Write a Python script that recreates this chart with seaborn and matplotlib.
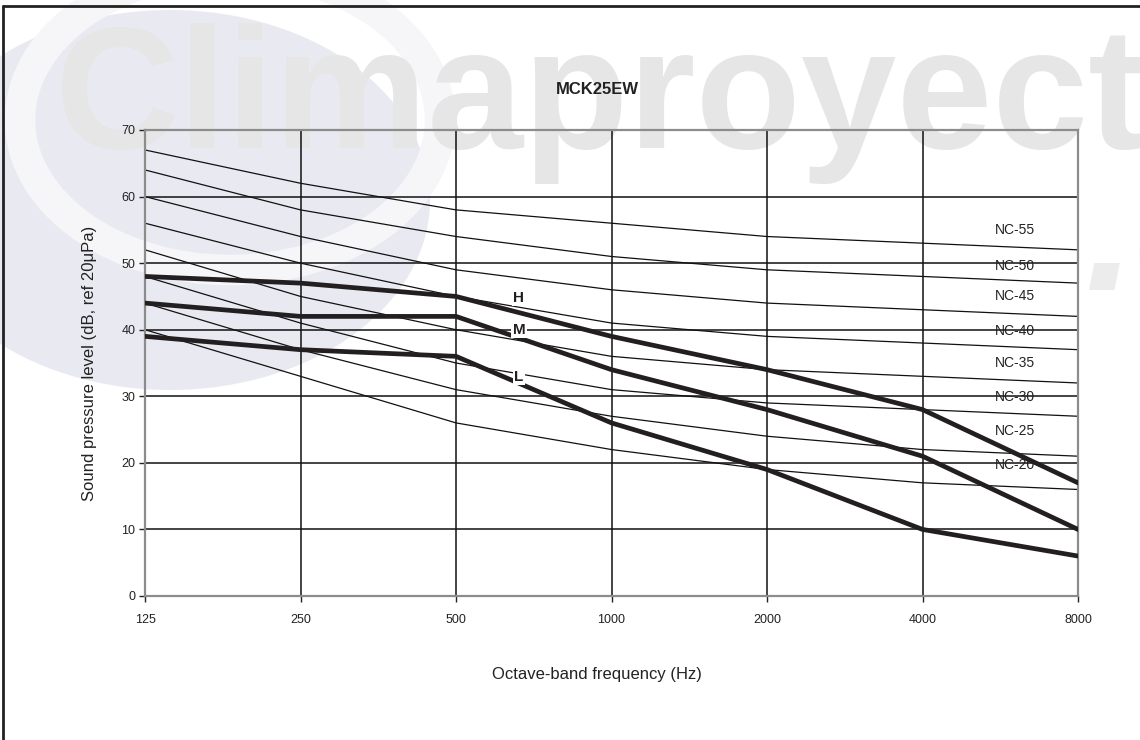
import numpy as np
import pandas as pd
import matplotlib
matplotlib.use("Agg")
import matplotlib.pyplot as plt
import seaborn as sns
from matplotlib.lines import Line2D
from matplotlib.patches import Ellipse

# octave band centres and NC reference curves
freqs = ["125", "250", "500", "1000", "2000", "4000", "8000"]
nc_names = ["NC-55", "NC-50", "NC-45", "NC-40", "NC-35", "NC-30", "NC-25", "NC-20"]
nc_55 = [67, 62, 58, 56, 54, 53, 52]
nc_50 = [64, 58, 54, 51, 49, 48, 47]
nc_45 = [60, 54, 49, 46, 44, 43, 42]
nc_40 = [56, 50, 45, 41, 39, 38, 37]
nc_35 = [52, 45, 40, 36, 34, 33, 32]
nc_30 = [48, 41, 35, 31, 29, 28, 27]
nc_25 = [44, 37, 31, 27, 24, 22, 21]
nc_20 = [40, 33, 26, 22, 19, 17, 16]
nc_label_y = [55, 49.6, 45, 39.8, 35, 29.9, 24.8, 19.7]

# unit fan speeds
fan_names = ["H", "M", "L"]
fan_h = [48, 47, 45, 39, 34, 28, 17]
fan_m = [44, 42, 42, 34, 28, 21, 10]
fan_l = [39, 37, 36, 26, 19, 10, 6]
fan_label_y = [44.8, 40, 32.9]

title = "MCK25EW"

sns.set_theme(style="white")
plt.rcParams["font.family"] = ["Liberation Sans", "DejaVu Sans"]

fig = plt.figure(figsize=(11.4, 7.4), dpi=100)

# faint watermark in a background axes
bg = fig.add_axes([0, 0, 1, 1], zorder=-5)
bg.set_xlim(0, 1140)
bg.set_ylim(740, 0)
bg.axis("off")
bg.add_patch(Ellipse((170, 200), 520, 380, facecolor="#e9e9f1", edgecolor="none"))
bg.add_patch(Ellipse((230, 120), 420, 300, facecolor="none", edgecolor="#f6f6f8", lw=22))
bg.text(55, 148, "Climaproyect", fontsize=124, fontweight="bold",
        color="#e6e6e6", ha="left", va="baseline")
bg.text(1085, 290, ".c", fontsize=130, fontweight="bold", style="italic",
        color="#ececec", ha="left", va="baseline")

# outer frame
fig.add_artist(Line2D([3 / 1140, 1], [1 - 6 / 740, 1 - 6 / 740], transform=fig.transFigure,
                      color="#222222", lw=2))
fig.add_artist(Line2D([3 / 1140, 3 / 1140], [0, 1 - 6 / 740], transform=fig.transFigure,
                      color="#222222", lw=2))

ax = fig.add_axes([145 / 1140, 1 - 596 / 740, 933 / 1140, 466 / 740])
ax.set_facecolor("none")

pos = np.arange(len(freqs))

# grid
for y in range(10, 70, 10):
    ax.axhline(y, color="#111111", lw=1.1, zorder=1)
for x in pos[1:-1]:
    ax.axvline(x, color="#111111", lw=1.1, zorder=1)

nc_curves = [nc_55, nc_50, nc_45, nc_40, nc_35, nc_30, nc_25, nc_20]
for name, vals, ly in zip(nc_names, nc_curves, nc_label_y):
    sns.lineplot(x=pos, y=vals, ax=ax, color="#111111", lw=0.9, zorder=2)
    ax.text(5.595, ly, name, fontsize=10, color="#222222", ha="center", va="center", zorder=3)

fan_curves = [fan_h, fan_m, fan_l]
for name, vals, ly in zip(fan_names, fan_curves, fan_label_y):
    sns.lineplot(x=pos, y=vals, ax=ax, color="#231f20", lw=3.4, zorder=4)
    ax.text(2.405, ly, name, fontsize=11, fontweight="bold", color="#231f20",
            ha="center", va="center", zorder=5,
            bbox=dict(facecolor="white", edgecolor="none", pad=1.0))

ax.set_xlim(0, len(freqs) - 1)
ax.set_ylim(0, 70)
ax.set_xticks(pos)
ax.set_xticklabels(freqs)
ax.set_yticks(range(0, 80, 10))
ax.tick_params(axis="both", labelsize=9, colors="#222222", length=4, width=1,
               direction="out", bottom=True, left=True)
ax.tick_params(axis="x", pad=9)
ax.tick_params(axis="y", pad=3)
for s in ax.spines.values():
    s.set_color("#8c8c8c")
    s.set_linewidth(1.6)
    s.set_visible(True)

ax.set_xlabel("Octave-band frequency (Hz)", fontsize=12, color="#222222")
ax.set_ylabel("Sound pressure level (dB, ref 20\u03bcPa)", fontsize=12, color="#222222")
ax.xaxis.set_label_coords(0.4845, -0.152)
ax.yaxis.set_label_coords(-0.0514, 0.5)
ax.text(0.4845, 1.086, title, transform=ax.transAxes, fontsize=12, fontweight="bold",
        ha="center", va="center", color="#222222")

fig.savefig("out.png", dpi=100)
